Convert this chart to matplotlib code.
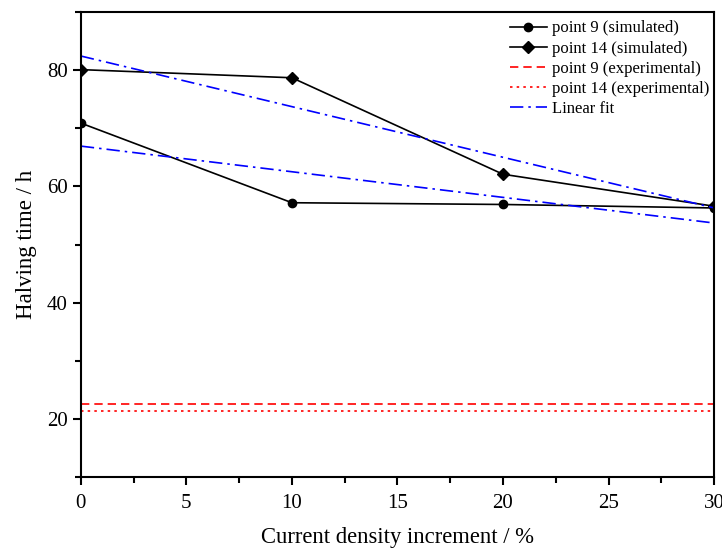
import numpy as np
import matplotlib
matplotlib.use('Agg')
import matplotlib.pyplot as plt
from matplotlib.ticker import MultipleLocator

# data
increment = [0, 10, 20, 30]                  # current density increment / %
p9_sim = [70.9, 57.2, 56.9, 56.3]            # halving time / h
p14_sim = [80.1, 78.7, 62.1, 56.6]
p9_exp = 22.5
p14_exp = 21.3

plt.rcParams['font.family'] = ['Liberation Serif', 'DejaVu Serif']
plt.rcParams['mathtext.fontset'] = 'stix'

fig = plt.figure(figsize=(7.22, 5.49), dpi=100)
ax = fig.add_axes([0.112, 0.131, 0.877, 0.847])

ax.plot(increment, p9_sim, '-', color='black', lw=1.2, marker='o', ms=6,
        label='point 9 (simulated)')
ax.plot(increment, p14_sim, '-', color='black', lw=1.2, marker='D', ms=6,
        label='point 14 (simulated)')
ax.axhline(p9_exp, color='red', ls=(0, (5, 3)), lw=1.2,
           label='point 9 (experimental)')
ax.axhline(p14_exp, color='red', ls=(0, (1.5, 2.5)), lw=1.2,
           label='point 14 (experimental)')

# linear fits of the simulated points
xfit = np.array([0, 30])
for k, ys in enumerate([p9_sim, p14_sim]):
    a, b = np.polyfit(increment, ys, 1)
    ax.plot(xfit, a * xfit + b, color='blue', lw=1.2, ls=(0, (8, 3, 1.5, 3)),
            label='Linear fit' if k == 0 else None)

ax.set_xlim(0, 30)
ax.set_ylim(10, 90)
ax.xaxis.set_major_locator(MultipleLocator(5))
ax.xaxis.set_minor_locator(MultipleLocator(2.5))
ax.yaxis.set_major_locator(MultipleLocator(20))
ax.yaxis.set_minor_locator(MultipleLocator(10))
ax.set_yticks([20, 40, 60, 80])
ax.tick_params(which='major', direction='out', length=6, width=1.5,
               labelsize=15, top=False, right=False)
ax.tick_params(which='minor', direction='out', length=4, width=1.5,
               top=False, right=False)
ax.tick_params(axis='x', pad=6)
for s in ax.spines.values():
    s.set_linewidth(1.5)

ax.set_xlabel('Current density increment / %', fontsize=16.3, labelpad=10)
ax.set_ylabel('Halving time / h', fontsize=16.5, labelpad=7)

ax.legend(loc='upper right', bbox_to_anchor=(1.005, 1.0), frameon=False,
          fontsize=12, handlelength=2.2, handletextpad=0.3,
          labelspacing=0.25, borderaxespad=0.1)

fig.savefig('out.png', dpi=100)
